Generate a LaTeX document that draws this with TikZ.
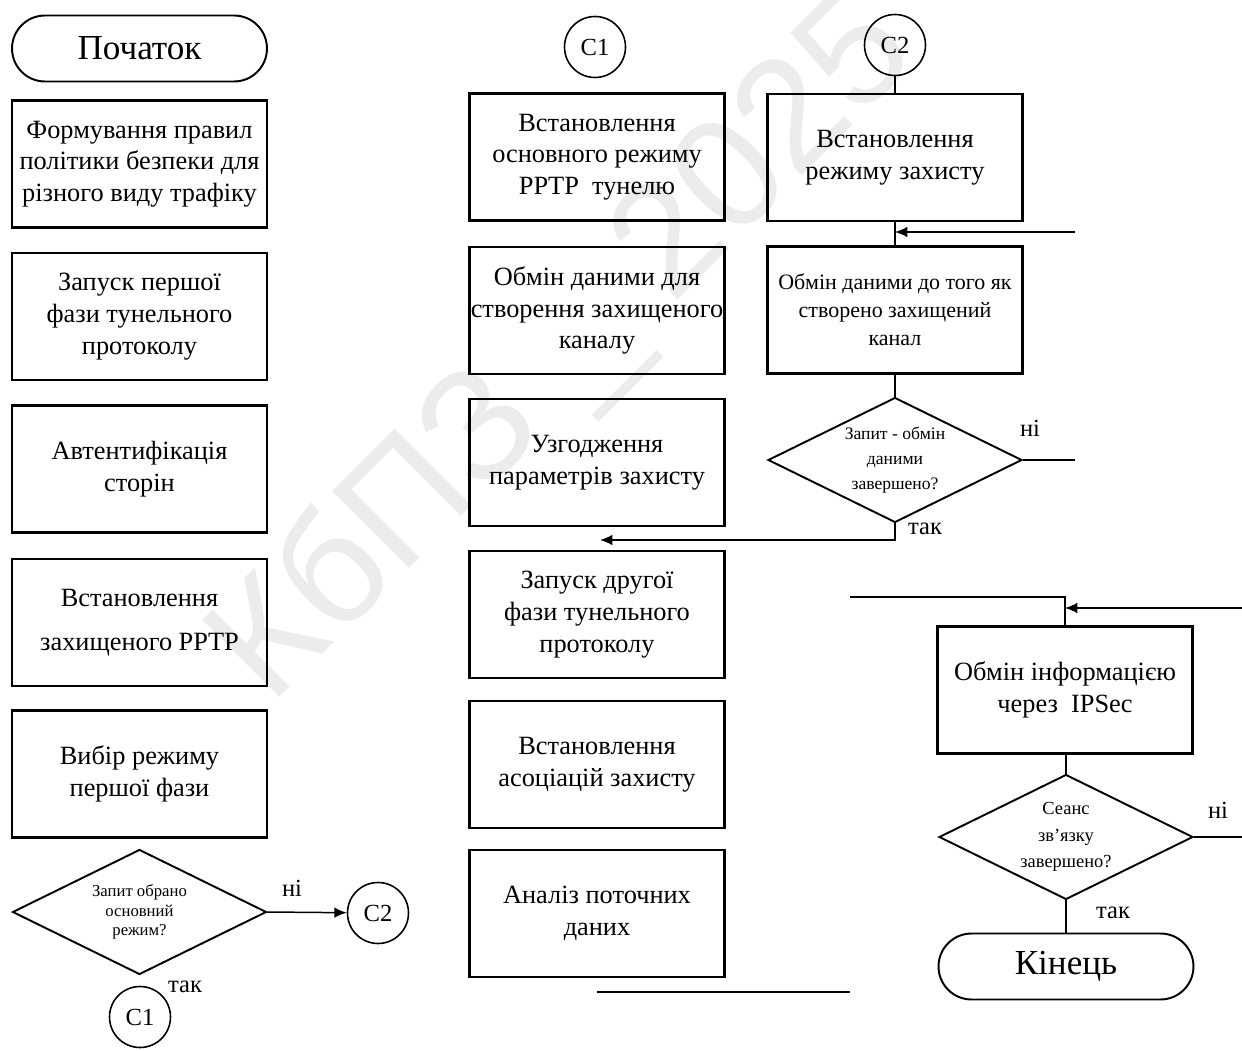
\documentclass[tikz,border=0pt]{standalone}
\usepackage{fontspec}
\setmainfont{Liberation Serif}
\newfontfamily\wmfont{Liberation Sans}
\usetikzlibrary{shapes.geometric,arrows.meta}

\tikzset{
  blok/.style={draw, line width=1.4pt, minimum width=5.1cm, minimum height=2.54cm,
    inner sep=0pt, align=center, font=\fontsize{15}{18}\selectfont},
  term/.style={draw, line width=1.1pt, rounded corners=0.66cm, minimum width=5.1cm,
    minimum height=1.32cm, font=\fontsize{20}{24}\selectfont},
  romb/.style={draw, diamond, aspect=2, line width=1.1pt, minimum width=5.08cm,
    minimum height=2.5cm, inner sep=0pt, align=center},
  kolo/.style={draw, circle, line width=0.9pt, minimum size=1.22cm, inner sep=0pt,
    font=\fontsize{14}{16}\selectfont},
  napys/.style={font=\fontsize{14}{16}\selectfont},
  lin/.style={line width=0.85pt},
  strl/.style={lin, -{Latex[length=7pt,width=6pt]}}
}

\begin{document}
\begin{tikzpicture}[x=0.02cm,y=-0.02cm]
\useasboundingbox (0,0) rectangle (1242,1051);
\node[rotate=45, text=gray!15, font=\wmfont\fontsize{90}{90}\selectfont] (znak) at (566,352) {КбПЗ \_ 2025};

% left column
\node[term] (pochatok) at (139.5,48.5) {Початок};
\node[blok] (formuv) at (139.5,164) {Формування правил\\політики безпеки для\\різного виду трафіку};
\node[blok] (zapusk1) at (139.5,316.5) {Запуск першої\\фази тунельного\\протоколу};
\node[blok] (avtent) at (139.5,469) {Автентифікація\\сторін};
\node[blok] (pptp) at (139.5,622.5) {Встановлення\\[7pt]захищеного PPTP};
\node[blok] (vybir) at (139.5,774) {Вибір режиму\\першої фази};
\node[romb, font=\fontsize{9.5}{11}\selectfont] (zapyt1) at (139.5,912) {Запит обрано\\основний\\режим?};
\node[kolo] (c2a) at (378,913) {C2};
\node[kolo] (c1a) at (140,1017) {C1};
\node[napys] (ni1) at (292,888) {ні};
\node[napys] (tak1) at (185,987) {так};
\draw[strl] (zapyt1.east) -- (c2a);
%\draw[lin] (zapyt1.south) -- (c1a);

% middle column
\node[kolo] (c1b) at (595,47) {C1};
\node[blok] (osnovn) at (597,157) {Встановлення\\основного режиму\\PPTP\enspace тунелю};
\node[blok] (obmin2) at (597,310.5) {Обмін даними для\\створення захищеного\\каналу};
\node[blok] (uzgodzh) at (597,462.5) {Узгодження\\параметрів захисту};
\node[blok] (zapusk2) at (597,614.5) {Запуск другої\\фази тунельного\\протоколу};
\node[blok] (asoc) at (597,764.5) {Встановлення\\асоціацій захисту};
\node[blok] (analiz) at (597,913.5) {Аналіз поточних\\даних};
\coordinate (niz1) at (597,992);
\coordinate (niz2) at (850,992);
\draw[lin] (niz1) -- (niz2);

% right column, top
\node[kolo] (c2b) at (895,45) {C2};
\node[blok] (rezhym) at (895,157.5) {Встановлення\\режиму захисту};
\node[blok, font=\fontsize{12.5}{16}\selectfont] (obmin1) at (895,310) {Обмін даними до того як\\створено захищений\\канал};
\node[romb, font=\fontsize{10}{14}\selectfont] (zapyt2) at (895,460) {Запит - обмін\\даними\\завершено?};
\node[napys] (ni2) at (1030,428) {ні};
\node[napys] (tak2) at (925,529) {так};
\coordinate (vkhid1) at (1075,232);
\coordinate (vykhid1) at (1075,460);
\coordinate (strilka1) at (600,540);
\draw[lin] (c2b) -- (rezhym);
\draw[lin] (rezhym) -- (obmin1);
\draw[strl] (vkhid1) -- (rezhym.south |- vkhid1);
\draw[lin] (obmin1) -- (zapyt2);
\draw[lin] (zapyt2.east) -- (vykhid1);
\draw[strl] (zapyt2.south) |- (strilka1);

% right column, bottom
\coordinate (vkhid2) at (850,597);
\coordinate (vkhid3) at (1242,608);
\node[blok] (ipsec) at (1065,690) {Обмін інформацією\\через\enspace IPSec};
\node[romb, font=\fontsize{10.5}{15}\selectfont] (seans) at (1066,837) {Сеанс\\зв’язку\\завершено?};
\node[napys] (ni3) at (1218,810) {ні};
\node[napys] (tak3) at (1113,913) {так};
\node[term] (kinets) at (1066,966.5) {Кінець};
\coordinate (vykhid2) at (1242,837);
\draw[lin] (vkhid2) -| (ipsec.north);
\draw[strl] (vkhid3) -- (ipsec.north |- vkhid3);
\draw[lin] (ipsec.south -| seans.north) -- (seans.north);
\draw[lin] (seans.east) -- (vykhid2);
\draw[lin] (seans) -- (kinets);
\end{tikzpicture}
\end{document}
